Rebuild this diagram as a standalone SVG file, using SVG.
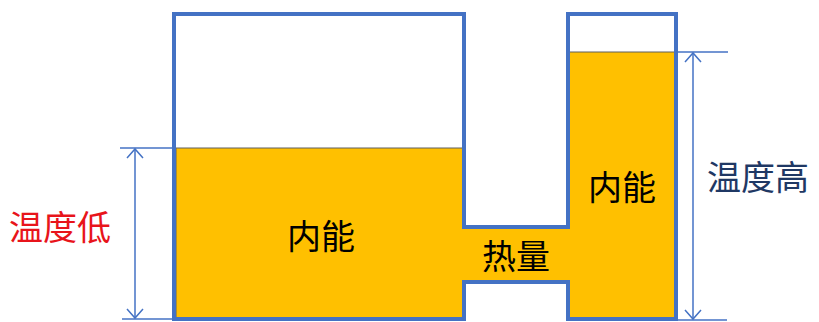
<svg xmlns="http://www.w3.org/2000/svg" width="819" height="322" viewBox="0 0 819 322">
  <style>
    .lbl { font-family: "Noto Sans CJK SC", "Microsoft YaHei", sans-serif; font-size: 34px; text-anchor: middle; dominant-baseline: central; }
    .dim { stroke: #4472C4; stroke-width: 1.5; fill: none; }
    .outline { fill: none; stroke: #4472C4; stroke-width: 4; stroke-linejoin: miter; }
    .water { fill: #FFC000; stroke: #5F5F5F; stroke-width: 1; }
  </style>
  <defs>
    <marker id="arr" viewBox="0 0 20 20" refX="10" refY="10" markerWidth="20" markerHeight="20" markerUnits="userSpaceOnUse" orient="auto-start-reverse">
      <path d="M1,2 L10,10 L1,18" fill="none" stroke="#4472C4" stroke-width="1.5"/>
    </marker>
  </defs>
  <g id="tank">
    <path class="water" d="M176,148 V318 H464 V282 H568 V318 H676 V52 H568 V227 H464 V148 Z"/>
    <path class="outline" d="M174,14 V319 H464 V282 H568 V319 H676 V14 H568 V227 H464 V14 Z"/>
  </g>
  <g id="label-left-energy"><text class="lbl" x="321" y="234" fill="#000">内能</text></g>
  <g id="label-right-energy"><text class="lbl" x="622" y="185" fill="#000">内能</text></g>
  <g id="label-heat"><text class="lbl" x="516" y="254" fill="#000">热量</text></g>
  <g id="label-low"><text class="lbl" x="60" y="225" fill="#E8141B">温度低</text></g>
  <g id="label-high"><text class="lbl" x="758" y="175" fill="#1F3864">温度高</text></g>
  <g id="connectors">
    <line class="dim" x1="120" y1="148" x2="174" y2="148"/>
    <line class="dim" x1="122" y1="319" x2="174" y2="319"/>
    <line class="dim" x1="135" y1="149" x2="135" y2="318" marker-start="url(#arr)" marker-end="url(#arr)"/>
    <line class="dim" x1="676" y1="52" x2="728" y2="52"/>
    <line class="dim" x1="676" y1="320" x2="727" y2="320"/>
    <line class="dim" x1="693" y1="53" x2="693" y2="319" marker-start="url(#arr)" marker-end="url(#arr)"/>
  </g>
</svg>
